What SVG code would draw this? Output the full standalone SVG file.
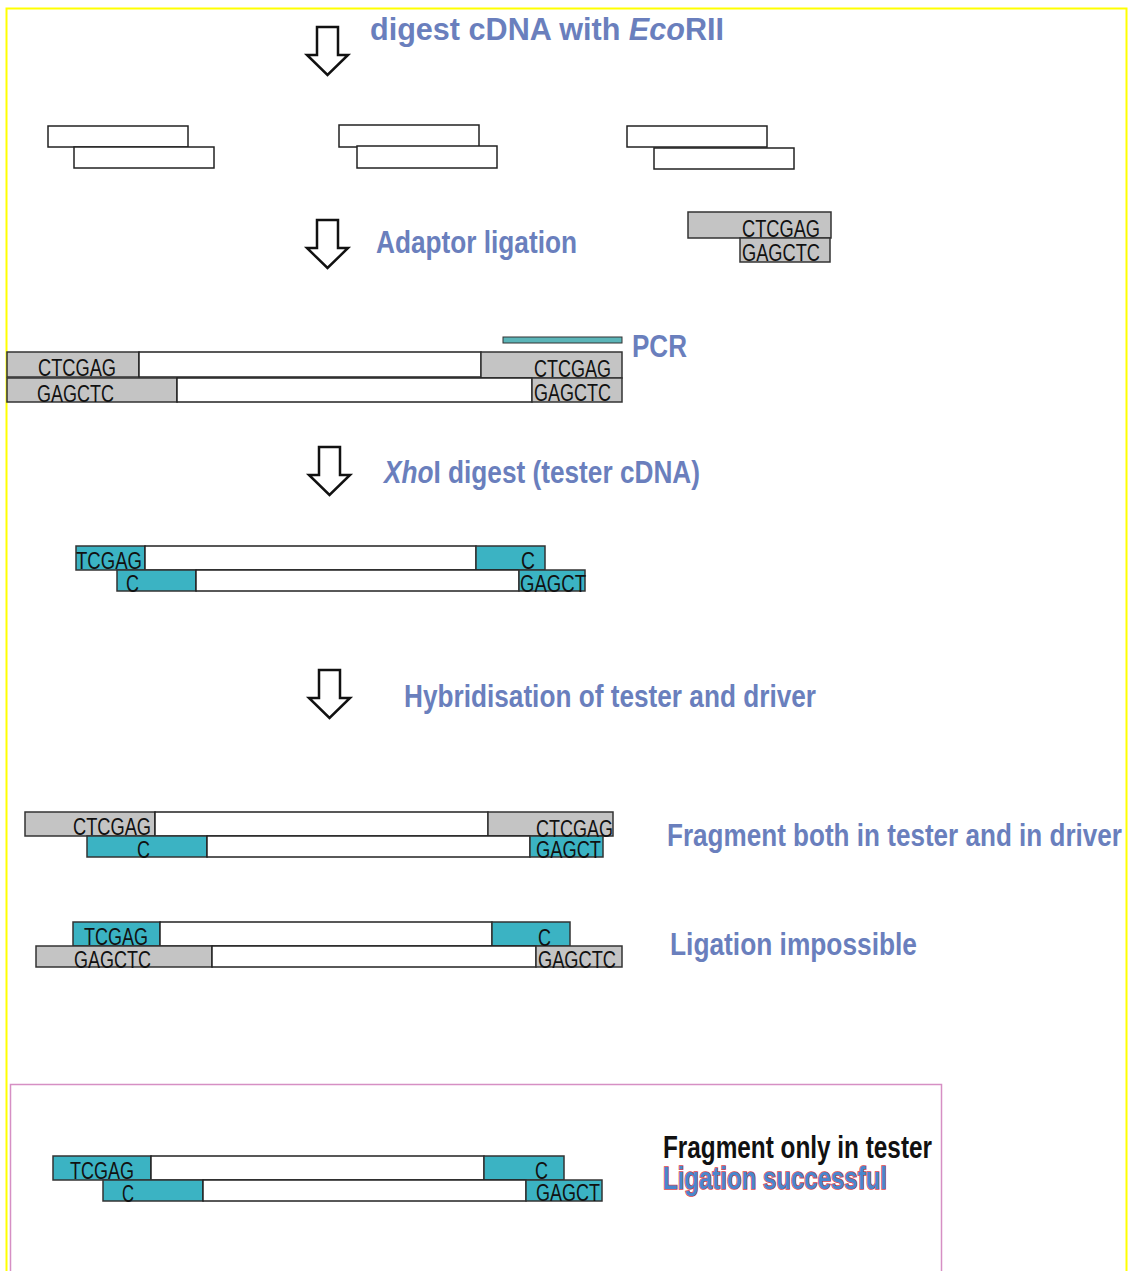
<svg xmlns="http://www.w3.org/2000/svg" width="1128" height="1271" viewBox="0 0 1128 1271">
<style>
.w{fill:#fff;stroke:#222;stroke-width:1.5}
.g{fill:#c4c4c4;stroke:#333;stroke-width:1.5}
.t{fill:#3bb3c3;stroke:#333;stroke-width:1.5}
.s{font-family:"Liberation Sans Narrow","Liberation Sans",Arial,sans-serif;font-size:23px;fill:#111}
.h{font-family:"Liberation Sans Narrow","Liberation Sans",Arial,sans-serif;font-size:31px;font-weight:bold;fill:#6a7fbd}
.arr{fill:#fff;stroke:#111;stroke-width:2.5;stroke-linejoin:miter}
</style>
<rect x="0" y="0" width="1128" height="1271" fill="#fff"/>
<path d="M6.5,1271 V8.5 H1126.5 V1271" fill="none" stroke="#ffff00" stroke-width="2"/>
<path d="M10.5,1271 V1084.5 H941.5 V1271" fill="none" stroke="#d68fc4" stroke-width="1.5"/>

<g id="connectors">
<path class="arr" d="M317,27 H338 V55 H348 L327.5,75 L307,55 H317 Z"/>
<path class="arr" d="M317,220 H338 V248 H348 L327.5,268 L307,248 H317 Z"/>
<path class="arr" d="M319,447 H340 V475 H350 L329.5,495 L309,475 H319 Z"/>
<path class="arr" d="M319,670 H340 V698 H350 L329.5,718 L309,698 H319 Z"/>
</g>

<g id="labels">
<text class="h" x="370" y="40" textLength="354" lengthAdjust="spacingAndGlyphs">digest cDNA with <tspan font-style="italic">Eco</tspan>RII</text>
<text class="h" x="376" y="253" textLength="201" lengthAdjust="spacingAndGlyphs">Adaptor ligation</text>
<text class="h" x="632" y="357" textLength="55" lengthAdjust="spacingAndGlyphs">PCR</text>
<text class="h" x="384" y="483" textLength="316" lengthAdjust="spacingAndGlyphs"><tspan font-style="italic">Xho</tspan>I digest (tester cDNA)</text>
<text class="h" x="404" y="707" textLength="412" lengthAdjust="spacingAndGlyphs">Hybridisation of tester and driver</text>
<text class="h" x="667" y="846" textLength="455" lengthAdjust="spacingAndGlyphs">Fragment both in tester and in driver</text>
<text class="h" x="670" y="955" textLength="247" lengthAdjust="spacingAndGlyphs">Ligation impossible</text>
<text class="h" x="663" y="1158" textLength="269" lengthAdjust="spacingAndGlyphs" style="fill:#111">Fragment only in tester</text>
<text class="h" x="663" y="1189" textLength="224" lengthAdjust="spacingAndGlyphs" style="fill:#4a86cc;stroke:#d9434b;stroke-width:1.6;paint-order:stroke">Ligation successful</text>
</g>

<g id="fragments">
<rect class="w" x="48" y="126" width="140" height="21"/>
<rect class="w" x="74" y="147" width="140" height="21"/>
<rect class="w" x="339" y="125" width="140" height="22"/>
<rect class="w" x="357" y="146" width="140" height="22"/>
<rect class="w" x="627" y="126" width="140" height="21"/>
<rect class="w" x="654" y="148" width="140" height="21"/>
</g>

<g id="adaptor">
<rect class="g" x="688" y="212" width="143" height="26"/>
<rect class="g" x="740" y="238" width="90" height="24"/>
<text class="s" x="742" y="237" textLength="78" lengthAdjust="spacingAndGlyphs">CTCGAG</text>
<text class="s" x="742" y="261" textLength="78" lengthAdjust="spacingAndGlyphs">GAGCTC</text>
</g>

<g id="pcr-product">
<rect x="503" y="337" width="119" height="6" fill="#5bb5b8" stroke="#333" stroke-width="1"/>
<rect class="g" x="7" y="352" width="132" height="25"/>
<rect class="w" x="139" y="352" width="342" height="25"/>
<rect class="g" x="481" y="352" width="141" height="26"/>
<rect class="g" x="7" y="378" width="170" height="24"/>
<rect class="w" x="177" y="378" width="355" height="24"/>
<rect class="g" x="532" y="378" width="90" height="24"/>
<text class="s" x="38" y="376" textLength="78" lengthAdjust="spacingAndGlyphs">CTCGAG</text>
<text class="s" x="534" y="377" textLength="77" lengthAdjust="spacingAndGlyphs">CTCGAG</text>
<text class="s" x="37" y="402" textLength="77" lengthAdjust="spacingAndGlyphs">GAGCTC</text>
<text class="s" x="534" y="401" textLength="77" lengthAdjust="spacingAndGlyphs">GAGCTC</text>
</g>

<g id="xhoi-product">
<rect class="t" x="76" y="546" width="69" height="24"/>
<rect class="w" x="145" y="546" width="331" height="24"/>
<rect class="t" x="476" y="546" width="69" height="24"/>
<rect class="t" x="117" y="570" width="79" height="21"/>
<rect class="w" x="196" y="570" width="323" height="21"/>
<rect class="t" x="519" y="570" width="66" height="21"/>
<text class="s" x="76" y="569" textLength="66" lengthAdjust="spacingAndGlyphs">TCGAG</text>
<text class="s" x="521" y="569" textLength="14" lengthAdjust="spacingAndGlyphs">C</text>
<text class="s" x="126" y="592" textLength="13" lengthAdjust="spacingAndGlyphs">C</text>
<text class="s" x="520" y="592" textLength="66" lengthAdjust="spacingAndGlyphs">GAGCT</text>
</g>

<g id="hybrid-both">
<rect class="g" x="25" y="812" width="130" height="24"/>
<rect class="w" x="155" y="812" width="333" height="24"/>
<rect class="g" x="488" y="812" width="125" height="24"/>
<rect class="t" x="87" y="836" width="120" height="21"/>
<rect class="w" x="207" y="836" width="323" height="21"/>
<rect class="t" x="530" y="836" width="73" height="21"/>
<text class="s" x="73" y="835" textLength="78" lengthAdjust="spacingAndGlyphs">CTCGAG</text>
<text class="s" x="536" y="837" textLength="77" lengthAdjust="spacingAndGlyphs">CTCGAG</text>
<text class="s" x="137" y="858" textLength="13" lengthAdjust="spacingAndGlyphs">C</text>
<text class="s" x="536" y="858" textLength="65" lengthAdjust="spacingAndGlyphs">GAGCT</text>
</g>

<g id="hybrid-impossible">
<rect class="t" x="73" y="922" width="87" height="24"/>
<rect class="w" x="160" y="922" width="332" height="24"/>
<rect class="t" x="492" y="922" width="78" height="24"/>
<rect class="g" x="36" y="946" width="176" height="21"/>
<rect class="w" x="212" y="946" width="324" height="21"/>
<rect class="g" x="536" y="946" width="86" height="21"/>
<text class="s" x="84" y="945" textLength="64" lengthAdjust="spacingAndGlyphs">TCGAG</text>
<text class="s" x="538" y="946" textLength="13" lengthAdjust="spacingAndGlyphs">C</text>
<text class="s" x="74" y="968" textLength="77" lengthAdjust="spacingAndGlyphs">GAGCTC</text>
<text class="s" x="538" y="968" textLength="78" lengthAdjust="spacingAndGlyphs">GAGCTC</text>
</g>

<g id="hybrid-tester">
<rect class="t" x="53" y="1156" width="98" height="24"/>
<rect class="w" x="151" y="1156" width="333" height="24"/>
<rect class="t" x="484" y="1156" width="80" height="24"/>
<rect class="t" x="103" y="1180" width="100" height="21"/>
<rect class="w" x="203" y="1180" width="323" height="21"/>
<rect class="t" x="526" y="1180" width="76" height="21"/>
<text class="s" x="70" y="1179" textLength="64" lengthAdjust="spacingAndGlyphs">TCGAG</text>
<text class="s" x="535" y="1179" textLength="13" lengthAdjust="spacingAndGlyphs">C</text>
<text class="s" x="122" y="1202" textLength="12" lengthAdjust="spacingAndGlyphs">C</text>
<text class="s" x="536" y="1201" textLength="64" lengthAdjust="spacingAndGlyphs">GAGCT</text>
</g>
</svg>
